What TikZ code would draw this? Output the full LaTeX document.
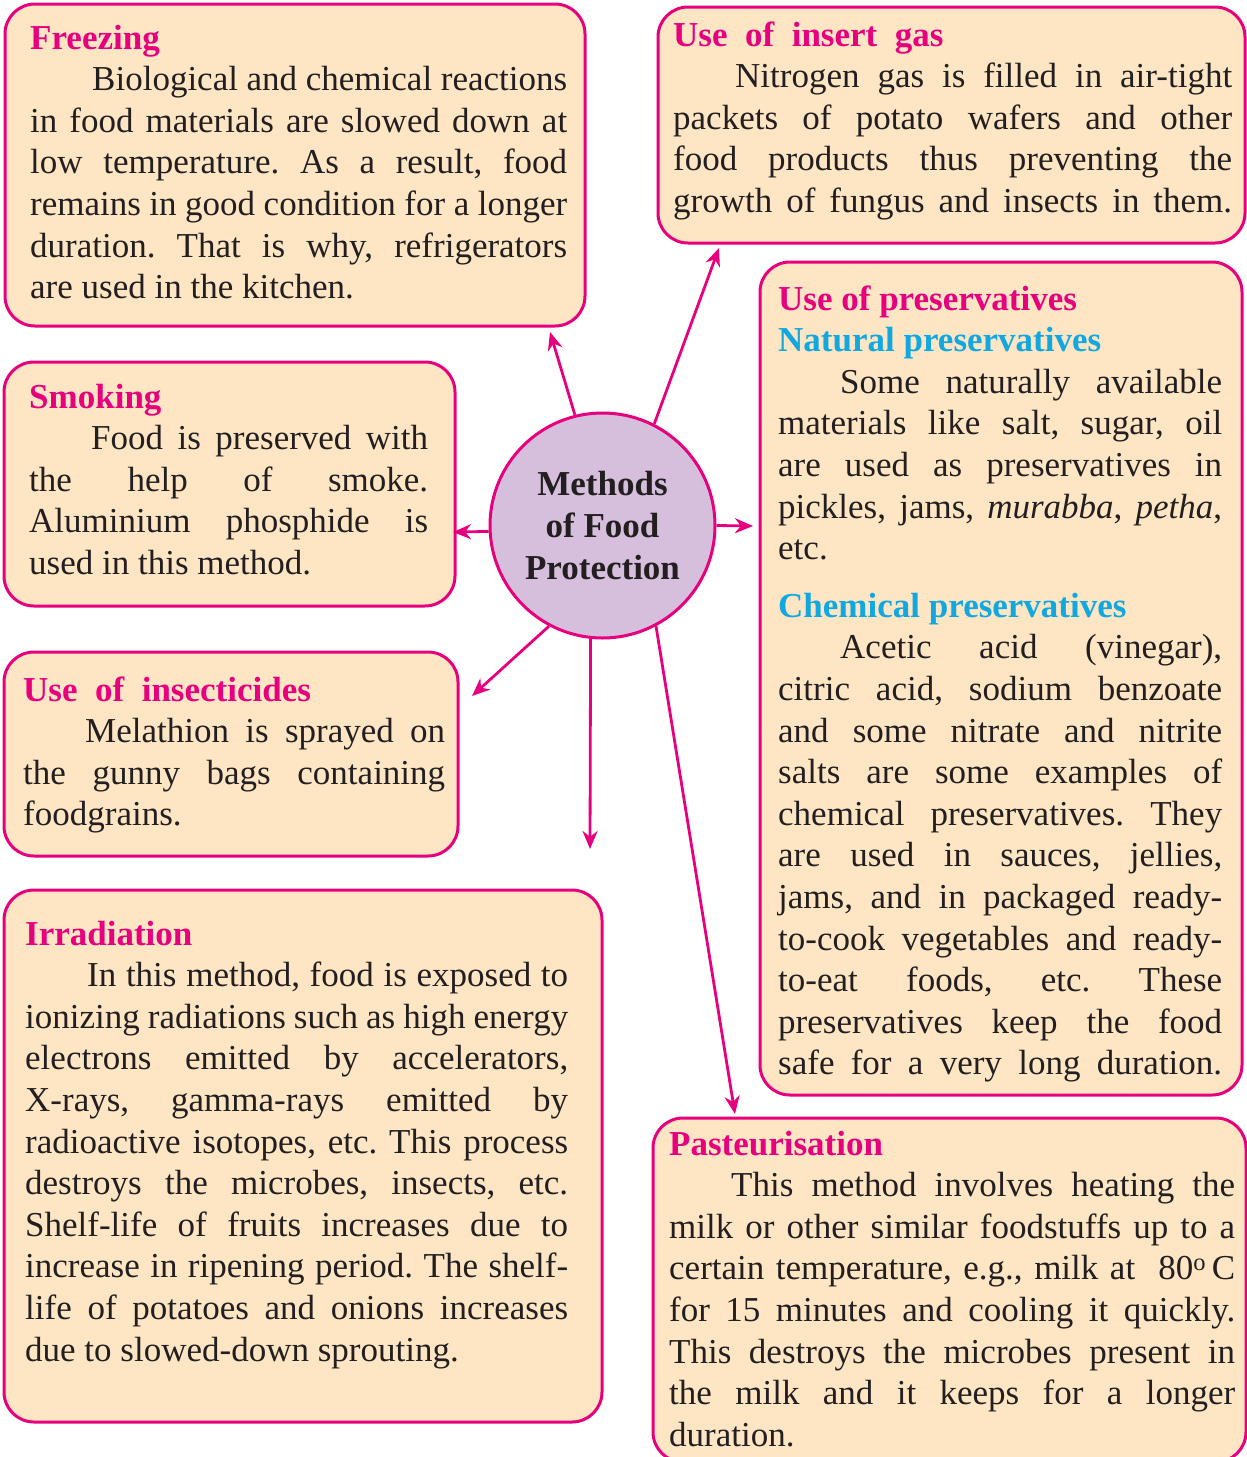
\documentclass[tikz,border=0pt]{standalone}
\usepackage{fontspec}
\setmainfont{Liberation Serif}
\usetikzlibrary{arrows.meta}
\definecolor{mag}{HTML}{E6007E}
\definecolor{peach}{HTML}{FEE6C4}
\definecolor{lilac}{HTML}{D5BFDC}
\definecolor{cyanhd}{HTML}{11A8E0}
\definecolor{ink}{HTML}{231F20}
\frenchspacing
\newcommand\bodysetup{\fontsize{35}{41.6}\selectfont\frenchspacing\parindent=62pt\tolerance=9999\hyphenpenalty=10000
  \leftskip=0pt\rightskip=0pt\spaceskip=0pt\xspaceskip=0pt\parfillskip=0pt plus 1fil\color{ink}}
\newcommand\hdm[1]{{\noindent\bfseries\color{mag}#1\par}}
\newcommand\hdc[1]{{\noindent\bfseries\color{cyanhd}#1\par}}
\begin{document}
\begin{tikzpicture}[x=1pt,y=-1pt,
  box/.style={draw=mag, line width=3pt, fill=peach, rounded corners=30pt},
  txt/.style={anchor=base west, inner sep=0pt, align=justify, font=\fontsize{35}{41.6}\selectfont},
  hubnode/.style={circle, draw=mag, line width=3pt, fill=lilac, minimum size=225pt, inner sep=0pt,
     align=center, text=ink, font=\fontsize{35}{41.6}\selectfont\bfseries},
  arr/.style={draw=mag, line width=2.8pt, -{Stealth[length=18pt,width=15pt]}}]
\useasboundingbox (0,0) rectangle (1247,1457);

% boxes
\draw[box] (5,4) rectangle (585,326);
\draw[box] (658,7) rectangle (1245,243);
\draw[box] (760,262) rectangle (1242,1095);
\draw[box] (4,362) rectangle (455,606);
\draw[box] (4,652) rectangle (458,856);
\draw[box] (4,890) rectangle (602,1422);
\draw[box] (653,1118) rectangle (1246,1462);

% texts
\node[txt, text width=537pt] (tFreez) at (30,49) {\bodysetup
\hdm{Freezing}
Biological and chemical reactions\linebreak
in food materials are slowed down at\linebreak
low temperature. As a result, food\linebreak
remains in good condition for a longer\linebreak
duration. That is why, refrigerators\linebreak
are used in the kitchen.\par};

\node[txt, text width=559pt] (tGas) at (673,46) {\bodysetup
\hdm{Use\ \ of\ \ insert\ \ gas}
Nitrogen gas is filled in air-tight\linebreak
packets of potato wafers and other\linebreak
food products thus preventing the\linebreak
growth of fungus and insects in them.{\parfillskip=0pt\par}};

\node[txt, text width=444pt] (tPres) at (778,310) {\bodysetup
\hdm{Use\ of\ preservatives}
\hdc{Natural\ preservatives}
Some naturally available\linebreak
materials like salt, sugar, oil\linebreak
are used as preservatives in\linebreak
pickles, jams, \textit{murabba}, \textit{petha},\linebreak
etc.\par
\vspace{16pt}
\hdc{Chemical\ preservatives}
Acetic acid (vinegar),\linebreak
citric acid, sodium benzoate\linebreak
and some nitrate and nitrite\linebreak
salts are some examples of\linebreak
chemical preservatives. They\linebreak
are used in sauces, jellies,\linebreak
jams, and in packaged ready-\linebreak
to-cook vegetables and ready-\linebreak
to-eat foods, etc. These\linebreak
preservatives keep the food\linebreak
safe for a very long duration.{\parfillskip=0pt\par}};

\node[txt, text width=399pt] (tSmoke) at (29,408) {\bodysetup
\hdm{Smoking}
Food is preserved with\linebreak
the help of smoke.\linebreak
Aluminium phosphide is\linebreak
used in this method.\par};

\node[txt, text width=422pt] (tInsect) at (23,701) {\bodysetup
\hdm{Use\ \ of\ \ insecticides}
Melathion is sprayed on\linebreak
the gunny bags containing\linebreak
foodgrains.\par};

\node[txt, text width=543pt] (tIrr) at (25,945) {\bodysetup
\hdm{Irradiation}
In this method, food is exposed to\linebreak
ionizing radiations such as high energy\linebreak
electrons emitted by accelerators,\linebreak
X-rays, gamma-rays emitted by\linebreak
radioactive isotopes, etc. This process\linebreak
destroys the microbes, insects, etc.\linebreak
Shelf-life of fruits increases due to\linebreak
increase in ripening period. The shelf-\linebreak
life of potatoes and onions increases\linebreak
due to slowed-down sprouting.\par};

\node[txt, text width=566pt] (tPast) at (669,1155) {\bodysetup
\hdm{Pasteurisation}
This method involves heating the\linebreak
milk or other similar foodstuffs up to a\linebreak
certain temperature, e.g., milk at\ \ 80\textsuperscript{o}\,C\linebreak
for 15 minutes and cooling it quickly.\linebreak
This destroys the microbes present in\linebreak
the milk and it keeps for a longer\linebreak
duration.\par};

% hub
\node[hubnode] (hub) at (602.5,525.5) {Methods\\of Food\\Protection};

% arrow ends
\coordinate (eFr) at (550,332);
\coordinate (eGas) at (719,248);
\coordinate (ePre) at (753,526);
\coordinate (eSm) at (453,532);
\coordinate (eIns) at (472,696);
\coordinate (eDn) at (590,849);
\coordinate (ePa) at (735,1114);

\draw[arr] (hub.104) -- (eFr);
\draw[arr] (hub.63) -- (eGas);
\draw[arr] (hub.0) -- (ePre);
\draw[arr] (hub.183) -- (eSm);
\draw[arr] (hub.242.5) -- (eIns);
\draw[arr] (hub.264) -- (eDn);
\draw[arr] (hub.298) -- (ePa);
\end{tikzpicture}
\end{document}
